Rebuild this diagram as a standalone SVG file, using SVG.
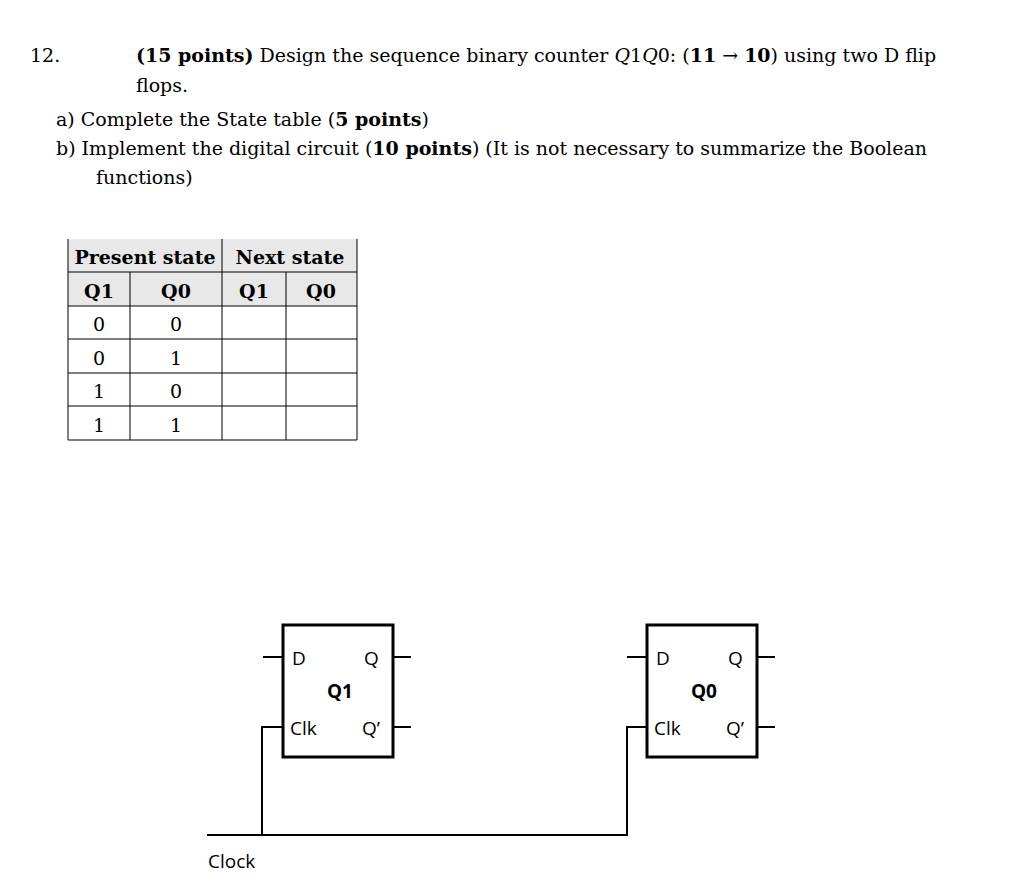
<svg xmlns="http://www.w3.org/2000/svg" width="1024" height="892" viewBox="0 0 1024 892">
<style>
.t{font-family:"DejaVu Serif","Liberation Serif",serif;font-size:19px;fill:#000}
.b{font-weight:bold}
.c{text-anchor:middle}
.s{font-family:"Open Sans","Liberation Sans",sans-serif;font-size:19px;fill:#000}
.box{fill:#fff;stroke:#000;stroke-width:3}
.w{stroke:#000;stroke-width:2;fill:none}
.g{stroke:#000;stroke-width:1}
</style>
<rect width="1024" height="892" fill="#fff"/>
<g id="question">
<text class="t" x="30" y="62">12.</text>
<text class="t" x="136" y="62"><tspan class="b">(15 points)</tspan> Design the sequence binary counter <tspan font-style="italic">Q</tspan>1<tspan font-style="italic">Q</tspan>0: (<tspan class="b">11</tspan> → <tspan class="b">10</tspan>) using two D flip</text>
<text class="t" x="136" y="92">flops.</text>
<text class="t" x="56" y="126">a)  Complete the State table (<tspan class="b">5 points</tspan>)</text>
<text class="t" x="56" y="155">b)  Implement the digital circuit (<tspan class="b">10 points</tspan>)  (It is not necessary to summarize the Boolean</text>
<text class="t" x="96" y="184">functions)</text>
</g>
<g id="table">
<rect x="68" y="239" width="289" height="67" fill="#e8e8e8"/>
<g class="g">
<line x1="68" y1="239" x2="68" y2="440"/><line x1="357" y1="239" x2="357" y2="440"/>
<line x1="222" y1="239" x2="222" y2="440"/><line x1="130" y1="272" x2="130" y2="440"/><line x1="286" y1="272" x2="286" y2="440"/>
<line x1="68" y1="272" x2="357" y2="272"/><line x1="68" y1="306" x2="357" y2="306"/><line x1="68" y1="339" x2="357" y2="339"/>
<line x1="68" y1="373" x2="357" y2="373"/><line x1="68" y1="406" x2="357" y2="406"/><line x1="68" y1="440" x2="357" y2="440"/>
</g>
<text class="t b c" x="145" y="264">Present state</text>
<text class="t b c" x="290" y="264">Next state</text>
<text class="t b c" x="99" y="298">Q1</text><text class="t b c" x="176" y="298">Q0</text>
<text class="t b c" x="254" y="298">Q1</text><text class="t b c" x="321" y="298">Q0</text>
<text class="t c" x="99" y="331">0</text><text class="t c" x="176" y="331">0</text>
<text class="t c" x="99" y="365">0</text><text class="t c" x="176" y="365">1</text>
<text class="t c" x="99" y="398">1</text><text class="t c" x="176" y="398">0</text>
<text class="t c" x="99" y="432">1</text><text class="t c" x="176" y="432">1</text>
</g>
<g id="ff1">
<rect class="box" x="283" y="625" width="110" height="132"/>
<text class="s" x="292" y="665">D</text><text class="s" x="364" y="665">Q</text>
<text class="s b c" x="340" y="698">Q1</text>
<text class="s" x="290" y="735">Clk</text><text class="s" x="362" y="735">Q’</text>
</g>
<g id="ff0">
<rect class="box" x="647" y="625" width="110" height="132"/>
<text class="s" x="656" y="665">D</text><text class="s" x="728" y="665">Q</text>
<text class="s b c" x="704" y="698">Q0</text>
<text class="s" x="654" y="735">Clk</text><text class="s" x="726" y="735">Q’</text>
</g>
<g id="connectors" class="w">
<line x1="263" y1="657" x2="283" y2="657"/><line x1="393" y1="657" x2="411" y2="657"/>
<line x1="393" y1="727" x2="411" y2="727"/>
<line x1="627" y1="657" x2="647" y2="657"/><line x1="757" y1="657" x2="775" y2="657"/>
<line x1="757" y1="727" x2="775" y2="727"/>
<polyline points="283,727 262,727 262,835"/>
<polyline points="207,835 627,835 627,727 647,727"/>
</g>
<text class="s" x="208" y="868">Clock</text>
</svg>
